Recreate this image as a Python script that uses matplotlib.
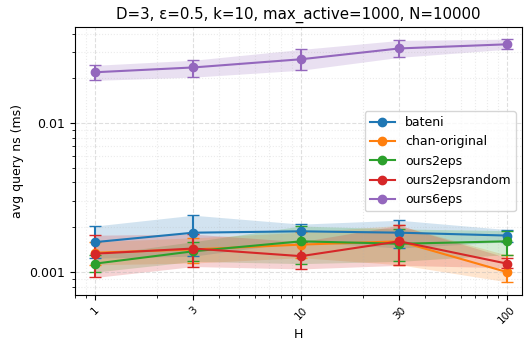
import matplotlib.pyplot as plt
from matplotlib.lines import Line2D

H = [1, 3, 10, 30, 100]
names = ["bateni", "chan-original", "ours2eps", "ours2epsrandom", "ours6eps"]

# mean and lower / upper bounds (ms)
bateni = [0.00159, 0.00184, 0.00188, 0.00184, 0.00176]
bateni_lo = [0.00124, 0.00128, 0.00160, 0.00145, 0.00160]
bateni_hi = [0.00204, 0.00241, 0.00210, 0.00223, 0.00193]

chan = [0.00135, 0.00142, 0.00153, 0.00161, 0.00100]
chan_lo = [0.00112, 0.00115, 0.00125, 0.00112, 0.00086]
chan_hi = [0.00160, 0.00170, 0.00185, 0.00206, 0.00130]

ours2 = [0.00114, 0.00138, 0.00161, 0.00155, 0.00161]
ours2_lo = [0.00100, 0.00118, 0.00114, 0.00118, 0.00131]
ours2_hi = [0.00130, 0.00160, 0.00204, 0.00195, 0.00190]

ours2r = [0.00133, 0.00144, 0.00128, 0.00161, 0.00114]
ours2r_lo = [0.00092, 0.00109, 0.00105, 0.00111, 0.00107]
ours2r_hi = [0.00177, 0.00180, 0.00160, 0.00206, 0.00125]

ours6 = [0.0220, 0.0237, 0.0269, 0.0318, 0.0339]
ours6_lo = [0.0194, 0.0204, 0.0227, 0.0277, 0.0314]
ours6_hi = [0.0245, 0.0265, 0.0313, 0.0360, 0.0367]

series = [(bateni, bateni_lo, bateni_hi), (chan, chan_lo, chan_hi),
          (ours2, ours2_lo, ours2_hi), (ours2r, ours2r_lo, ours2r_hi),
          (ours6, ours6_lo, ours6_hi)]
colors = ["#1f77b4", "#ff7f0e", "#2ca02c", "#d62728", "#9467bd"]

fig, ax = plt.subplots(figsize=(5.25, 3.43), dpi=100)
handles = []
for name, (m, lo, hi), c in zip(names, series, colors):
    yerr = [[a - b for a, b in zip(m, lo)], [b - a for a, b in zip(m, hi)]]
    ax.fill_between(H, lo, hi, color=c, alpha=0.2, linewidth=0)
    ax.errorbar(H, m, yerr=yerr, color=c, marker="o", markersize=6,
                capsize=4, linewidth=1.5)
    handles.append(Line2D([], [], color=c, marker="o", markersize=6,
                          linewidth=1.5, label=name))

ax.set_xscale("log")
ax.set_yscale("log")
ax.set_xlim(0.8, 118)
ax.set_ylim(0.000702, 0.044)
ax.set_xticks(H)
ax.set_xticklabels([str(h) for h in H], rotation=45, fontsize=7.5)
ax.set_yticks([0.001, 0.01])
ax.set_yticklabels(["0.001", "0.01"], fontsize=9)
ax.grid(True, which="major", linestyle="--", alpha=0.4)
ax.grid(True, which="minor", linestyle=":", alpha=0.25)
ax.set_xlabel("H", fontsize=9, labelpad=2)
ax.set_ylabel("avg query ns (ms)", fontsize=9)
ax.set_title("D=3, ε=0.5, k=10, max_active=1000, N=10000", fontsize=10.8)
ax.legend(handles=handles, loc="center right", fontsize=9)
plt.subplots_adjust(left=0.143, right=0.994, top=0.92, bottom=0.14)
plt.savefig("out.png")
